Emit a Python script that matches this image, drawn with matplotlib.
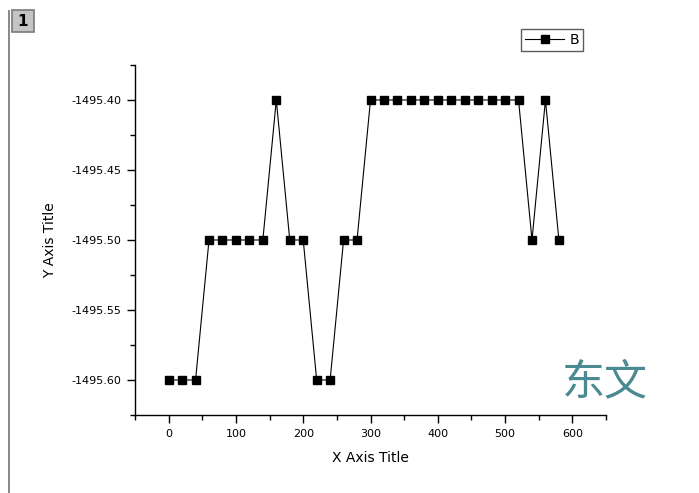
import matplotlib
matplotlib.use("Agg")
import matplotlib.pyplot as plt
from matplotlib.patches import Rectangle
from matplotlib.lines import Line2D
from matplotlib.ticker import MultipleLocator, FormatStrFormatter

# Series B: energy readings sampled every 20 steps
x_values = list(range(0, 600, 20))
b_values = [
    -1495.60, -1495.60, -1495.60, -1495.50, -1495.50, -1495.50, -1495.50,
    -1495.50, -1495.40, -1495.50, -1495.50, -1495.60, -1495.60, -1495.50,
    -1495.50, -1495.40, -1495.40, -1495.40, -1495.40, -1495.40, -1495.40,
    -1495.40, -1495.40, -1495.40, -1495.40, -1495.40, -1495.40, -1495.50,
    -1495.40, -1495.50,
]
series_name = "B"
x_title = "X Axis Title"
y_title = "Y Axis Title"
watermark = "东文"
page_label = "1"

W, H = 699, 493
fig = plt.figure(figsize=(W / 100, H / 100), dpi=100)
plt.rcParams["font.family"] = ["DejaVu Sans"]

# page frame: vertical rule and layer button
fig.add_artist(Rectangle((8 / W, 0), 2 / W, 1 - 10 / H, transform=fig.transFigure,
                         facecolor="#8c8c8c", edgecolor="none"))
fig.add_artist(Rectangle((12 / W, 1 - 32 / H), 22 / W, 22 / H, transform=fig.transFigure,
                         facecolor="#c4c4c4", edgecolor="#7a7a7a", linewidth=1.2))
fig.text(23 / W, 1 - 21 / H, page_label, ha="center", va="center",
         fontsize=11, fontweight="bold", color="black")

ax = fig.add_axes([135 / W, 78 / H, 471 / W, 350 / H])
ax.plot(x_values, b_values, color="black", linewidth=0.8,
        marker="s", markersize=5.5, markerfacecolor="black",
        markeredgecolor="black", label=series_name)

ax.set_xlim(-50, 650)
ax.set_ylim(-1495.625, -1495.375)
ax.xaxis.set_major_locator(MultipleLocator(100))
ax.xaxis.set_minor_locator(MultipleLocator(50))
ax.yaxis.set_major_locator(MultipleLocator(0.05))
ax.yaxis.set_minor_locator(MultipleLocator(0.025))
ax.yaxis.set_major_formatter(FormatStrFormatter("%.2f"))

for side in ("top", "right"):
    ax.spines[side].set_visible(False)
for side in ("left", "bottom"):
    ax.spines[side].set_linewidth(1.0)

ax.tick_params(which="major", direction="out", length=6, width=1.0,
               labelsize=8, pad=4)
ax.tick_params(which="minor", direction="out", length=3.8, width=1.0)

ax.set_xlabel(x_title, fontsize=10, labelpad=9)
ax.set_ylabel(y_title, fontsize=10, labelpad=10)

handle = Line2D([0], [0], color="black", linewidth=0.8, marker="s",
                markersize=5.5, markerfacecolor="black")
leg = fig.legend([handle], [series_name], loc="upper left",
                 bbox_to_anchor=(521 / W, 1 - 29 / H), fontsize=10,
                 frameon=True, fancybox=False, handlelength=2.8,
                 handletextpad=0.4, borderpad=0.3, borderaxespad=0)
leg.get_frame().set_edgecolor("#333333")
leg.get_frame().set_linewidth(1.0)

fig.text(605 / W, 1 - 382 / H, watermark, ha="center", va="center",
         fontsize=31, color="#4a8a90", fontweight="light",
         family=["Noto Sans CJK SC", "DejaVu Sans"])

fig.savefig("out.png", dpi=100)
